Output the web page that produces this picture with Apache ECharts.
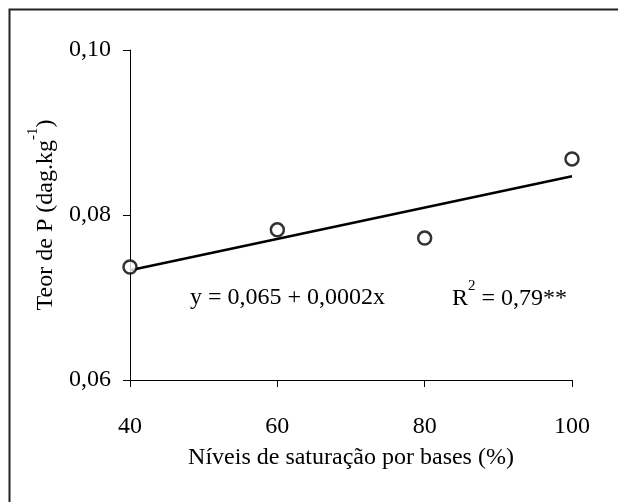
<!DOCTYPE html>
<html>
<head>
<meta charset="utf-8">
<script src="https://cdn.jsdelivr.net/npm/echarts@6/dist/echarts.min.js"></script>
<style>html,body{margin:0;padding:0;background:#fff;}#c{width:618px;height:502px;}</style>
</head>
<body>
<div id="c"></div>
<script>
// Data
var levels = [40, 60, 80, 100];
var phosphorus = [0.0737, 0.0782, 0.0772, 0.0868];
var fitX = [40, 100];
var fitY = [0.0733, 0.0847];
var yTicks = [0.06, 0.08, 0.10];
var xTicks = [40, 60, 80, 100];
var equationText = 'y = 0,065 + 0,0002x';
var r2Text = '= 0,79**';

var FONT = '"Liberation Serif", "Times New Roman", serif';
var chart = echarts.init(document.getElementById('c'), null, {renderer: 'canvas'});

var option = {
  backgroundColor: '#fff',
  animation: false,
  textStyle: {fontFamily: FONT, color: '#000'},
  grid: {left: 130, top: 50, width: 442, height: 330, containLabel: false},
  xAxis: {
    type: 'value', min: xTicks[0], max: xTicks[xTicks.length - 1], interval: 20,
    axisLine: {lineStyle: {color: '#000', width: 1}},
    axisTick: {show: true, inside: false, length: 7, lineStyle: {color: '#000'}},
    splitLine: {show: false},
    axisLabel: {margin: 35, fontSize: 24, color: '#000', fontFamily: FONT},
    name: 'Níveis de saturação por bases (%)',
    nameLocation: 'middle', nameGap: 66,
    nameTextStyle: {fontSize: 24, color: '#000', fontFamily: FONT}
  },
  yAxis: {
    type: 'value', min: yTicks[0], max: yTicks[yTicks.length - 1], interval: 0.02,
    axisLine: {show: true, lineStyle: {color: '#000', width: 1}},
    axisTick: {show: true, inside: false, length: 7, lineStyle: {color: '#000'}},
    splitLine: {show: false},
    axisLabel: {margin: 19, fontSize: 24, color: '#000', fontFamily: FONT,
      formatter: function (v) { return v.toFixed(2).replace('.', ','); }},
    name: '{a|Teor de P (dag.kg}{s|-1}{a|)}',
    nameLocation: 'middle', nameGap: 72, nameRotate: 90,
    nameTextStyle: {
      color: '#000', fontFamily: FONT,
      rich: {
        a: {fontSize: 24, fontFamily: FONT, color: '#000', lineHeight: 32, verticalAlign: 'bottom'},
        s: {fontSize: 15, fontFamily: FONT, color: '#000', lineHeight: 15, verticalAlign: 'top'}
      }
    }
  },
  series: [
    {
      type: 'line',
      data: fitX.map(function (x, i) { return [x, fitY[i]]; }),
      showSymbol: false, symbol: 'none',
      lineStyle: {color: '#000', width: 2.5},
      z: 2, silent: true
    },
    {
      type: 'scatter',
      data: levels.map(function (x, i) { return [x, phosphorus[i]]; }),
      symbol: 'circle', symbolSize: 13,
      itemStyle: {color: '#fff', borderColor: '#000', borderWidth: 2.5},
      z: 3
    }
  ],
  graphic: [
    {type: 'rect', shape: {x: 9.5, y: 9.5, width: 700, height: 600},
     style: {fill: null, stroke: '#222', lineWidth: 2}, silent: true, z: -1},
    {type: 'text', left: 190, top: 286,
     style: {text: equationText, font: '24px ' + FONT, fill: '#000'}},
    {type: 'text', left: 452, top: 279,
     style: {text: '{a|R}{s|2}{a| ' + r2Text + '}',
       rich: {
         a: {fontSize: 24, fontFamily: FONT, fill: '#000', lineHeight: 32, verticalAlign: 'bottom'},
         s: {fontSize: 15, fontFamily: FONT, fill: '#000', lineHeight: 15, verticalAlign: 'top'}
       }}}
  ]
};
chart.setOption(option);
</script>
</body>
</html>
